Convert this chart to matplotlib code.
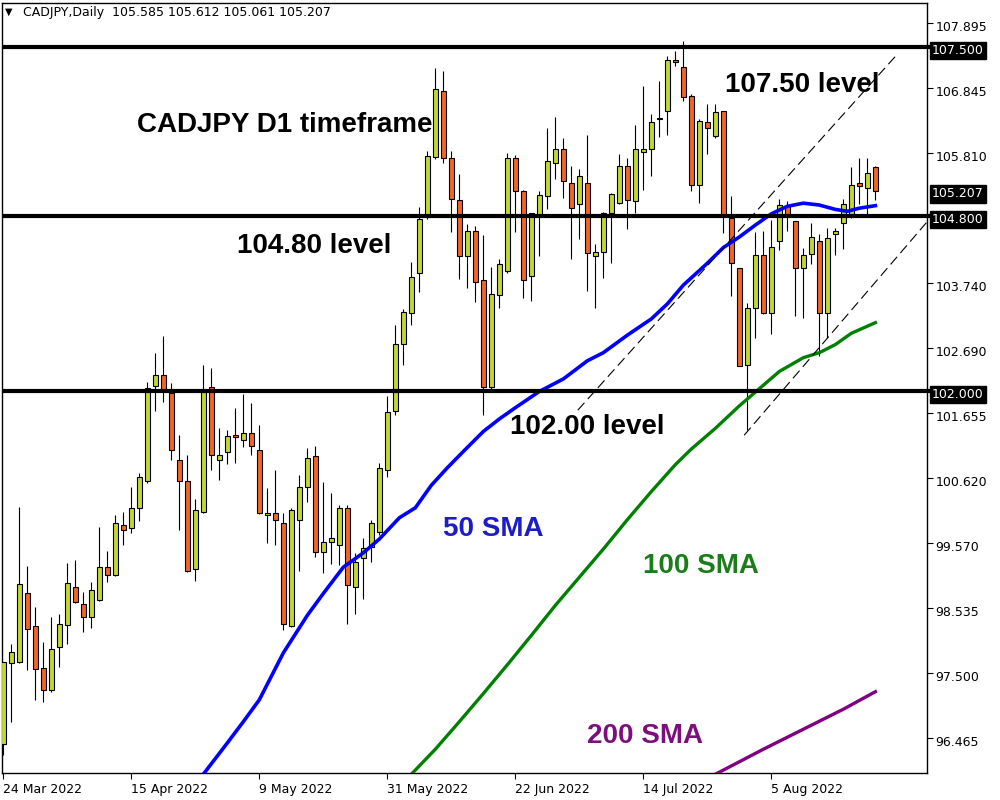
import matplotlib
matplotlib.use('Agg')
import matplotlib.pyplot as plt
from matplotlib import transforms

# daily CADJPY candles, 24 Mar 2022 -> 23 Aug 2022
opens = [96.36, 97.66, 97.68, 98.77, 98.25, 97.58, 97.22, 97.91, 98.26, 98.88,
         98.60, 98.40, 98.66, 99.19, 99.06, 99.87, 99.81, 100.13, 100.57, 102.08,
         102.26, 101.98, 100.91, 100.57, 99.16, 100.07, 102.07, 100.90, 101.03, 101.31,
         101.22, 101.34, 101.07, 100.02, 100.05, 99.90, 98.25, 99.94, 100.48, 100.97,
         99.44, 99.60, 99.54, 100.14, 98.88, 99.33, 99.51, 99.76, 100.75, 101.69,
         102.76, 103.25, 103.89, 104.79, 105.75, 106.81, 105.74, 105.06, 104.16, 104.56,
         103.78, 102.07, 103.54, 103.92, 105.74, 105.20, 103.84, 104.80, 105.12, 105.65,
         105.87, 105.34, 104.99, 105.34, 104.16, 104.23, 104.85, 105.01, 105.61, 105.04,
         105.82, 105.88, 106.35, 106.49, 107.30, 107.18, 106.73, 105.30, 106.30, 106.09,
         106.48, 104.78, 103.97, 102.43, 103.33, 104.18, 103.25, 104.40, 104.96, 104.72,
         103.97, 104.19, 104.40, 103.26, 104.51, 104.70, 104.82, 105.33, 105.26, 105.585]
highs = [97.67, 97.96, 100.16, 99.21, 98.55, 97.99, 98.39, 98.44, 99.25, 99.30,
         98.79, 98.95, 99.83, 99.45, 100.02, 100.08, 100.48, 100.69, 102.15, 102.62,
         102.88, 102.13, 101.31, 100.99, 100.28, 102.43, 102.38, 101.41, 101.39, 101.73,
         101.96, 101.82, 101.47, 100.45, 100.74, 100.06, 100.14, 100.67, 101.09, 101.12,
         100.55, 100.37, 100.18, 100.18, 99.41, 99.65, 99.94, 100.86, 101.93, 103.07,
         103.32, 104.07, 104.95, 105.85, 107.17, 107.13, 105.85, 105.47, 104.67, 104.65,
         104.50, 103.99, 104.11, 105.81, 105.78, 105.22, 104.85, 105.20, 106.21, 106.38,
         106.05, 105.61, 105.55, 106.10, 104.35, 104.87, 105.18, 105.80, 105.73, 106.26,
         106.89, 106.43, 106.97, 107.36, 107.44, 107.61, 106.75, 106.36, 106.60, 106.60,
         106.48, 105.12, 103.97, 103.42, 104.55, 104.56, 104.74, 105.07, 105.04, 104.73,
         104.29, 104.69, 104.52, 104.62, 104.62, 105.07, 105.59, 105.74, 105.74, 105.612]
lows = [96.19, 96.71, 97.66, 97.55, 97.06, 97.03, 97.19, 97.59, 97.97, 98.62,
        98.16, 98.22, 98.65, 98.96, 99.05, 99.55, 99.73, 99.93, 100.54, 101.68,
        101.83, 100.90, 99.78, 99.12, 98.97, 100.06, 100.74, 100.58, 100.84, 100.85,
        101.11, 100.98, 100.04, 99.58, 99.55, 98.19, 98.24, 99.13, 100.24, 99.36,
        99.09, 99.24, 99.23, 98.28, 98.44, 98.68, 99.27, 99.71, 100.64, 101.63,
        102.42, 103.06, 103.59, 104.76, 105.72, 105.66, 104.55, 103.79, 103.65, 103.43,
        101.63, 102.04, 103.34, 103.89, 104.55, 103.49, 103.45, 104.16, 104.91, 105.40,
        105.10, 104.12, 104.43, 103.61, 103.33, 103.82, 104.06, 104.99, 104.60, 104.86,
        105.22, 105.45, 106.07, 106.10, 107.21, 106.64, 105.20, 105.01, 105.80, 106.05,
        104.54, 103.52, 102.40, 101.38, 102.85, 103.24, 102.92, 104.26, 104.57, 103.21,
        103.18, 104.04, 102.57, 102.86, 104.18, 104.27, 104.77, 104.99, 104.84, 105.061]
closes = [97.67, 97.83, 98.92, 98.21, 97.56, 97.22, 97.89, 98.28, 98.93, 98.63,
          98.39, 98.82, 99.19, 99.07, 99.90, 99.79, 100.13, 100.63, 102.05, 102.26,
          102.00, 101.06, 100.57, 99.13, 100.11, 102.01, 100.98, 100.99, 101.28, 101.27,
          101.34, 101.13, 100.06, 100.05, 99.95, 98.29, 100.10, 100.48, 100.94, 99.44,
          99.60, 99.65, 100.14, 98.90, 99.27, 99.49, 99.90, 100.77, 101.67, 102.76,
          103.27, 103.83, 104.75, 105.77, 106.83, 105.74, 105.07, 104.16, 104.56, 103.75,
          102.07, 103.56, 104.03, 105.74, 105.21, 103.78, 104.85, 105.14, 105.68, 105.87,
          105.36, 104.93, 105.45, 104.21, 104.23, 104.85, 105.15, 105.61, 105.06, 105.87,
          105.88, 106.30, 106.36, 107.30, 107.27, 106.70, 105.30, 106.33, 106.21, 106.47,
          104.80, 104.05, 102.41, 103.33, 104.18, 103.25, 104.31, 104.98, 104.82, 103.97,
          104.18, 104.47, 103.26, 104.45, 104.56, 104.99, 105.30, 105.28, 105.50, 105.207]

# moving averages (candle index, value)
sma50_idx = [25, 28, 30, 32, 35, 38, 40, 42.5, 45, 47, 49.5, 51.5, 53.5, 55.5, 57.5,
             60, 62, 64, 67, 70, 73, 75, 78, 81, 83, 85, 88, 90, 92, 94, 96, 98,
             100, 102, 104, 105.5, 107, 109]
sma50_val = [95.88, 96.38, 96.72, 97.07, 97.82, 98.42, 98.77, 99.19, 99.42, 99.64,
             99.98, 100.14, 100.50, 100.78, 101.04, 101.36, 101.56, 101.74, 102.00,
             102.20, 102.49, 102.62, 102.90, 103.16, 103.40, 103.70, 104.05, 104.30,
             104.47, 104.66, 104.84, 104.96, 105.01, 104.98, 104.91, 104.88, 104.93,
             104.97]
sma100_idx = [51, 54, 57, 60, 63, 66, 69, 72, 75, 78, 81, 84, 86, 89, 92, 95, 97,
              100, 102, 104, 106, 109]
sma100_val = [95.88, 96.28, 96.72, 97.17, 97.63, 98.10, 98.58, 99.03, 99.48, 99.95,
              100.40, 100.83, 101.08, 101.41, 101.77, 102.10, 102.32, 102.54, 102.62,
              102.75, 102.93, 103.10]
sma200_idx = [89, 95, 100, 105, 109]
sma200_val = [95.88, 96.28, 96.60, 96.92, 97.20]

# hand-drawn channel lines (candle index, price)
upper_trend = ([71.8, 111.8], [101.70, 107.40])
lower_trend = ([92.6, 115.45], [101.30, 104.71])

levels = [107.5, 104.8, 102.0]
last_price = 105.207
ytick_vals = [107.895, 106.845, 105.810, 103.740, 102.690, 101.655,
              100.620, 99.570, 98.535, 97.500, 96.465]
date_idx = [0, 16, 32, 48, 64, 80, 96]
date_labels = ['24 Mar 2022', '15 Apr 2022', '9 May 2022', '31 May 2022',
               '22 Jun 2022', '14 Jul 2022', '5 Aug 2022']

BULL = '#c2d82e'
BEAR = '#f46424'

fig = plt.figure(figsize=(10, 8), dpi=100)
ax = fig.add_axes([0.002, 0.03375, 0.925, 0.9625])
ax.set_xlim(-0.16, 115.45)
ax.set_ylim(95.90, 108.21)

# candles
x = list(range(len(opens)))
ax.vlines(x, lows, highs, color='black', lw=0.8, zorder=2)
bottoms = [min(o, c) for o, c in zip(opens, closes)]
heights = [max(abs(c - o), 0.02) for o, c in zip(opens, closes)]
colors = [BULL if c >= o else BEAR for o, c in zip(opens, closes)]
ax.bar(x, heights, bottom=bottoms, width=0.62, color=colors,
       edgecolor='black', linewidth=0.8, zorder=3)

# SMAs
ax.plot(sma50_idx, sma50_val, color='#0000ff', lw=2.6, zorder=4,
        solid_joinstyle='round')
ax.plot(sma100_idx, sma100_val, color='#008000', lw=2.4, zorder=4,
        solid_joinstyle='round')
ax.plot(sma200_idx, sma200_val, color='#800080', lw=2.4, zorder=4)

# channel
for tx, ty in (upper_trend, lower_trend):
    ax.plot(tx, ty, color='black', lw=0.8, dashes=(9, 4.5), zorder=5)

# horizontal levels + price boxes on the right scale
yblend = transforms.blended_transform_factory(ax.transAxes, ax.transData)
shift = transforms.ScaledTranslation(0, -3 / 100, fig.dpi_scale_trans)
for lv in levels:
    ax.plot([0, 1.004], [lv, lv], transform=yblend, color='black', lw=3,
            solid_capstyle='butt', clip_on=False, zorder=6)
for val in levels + [last_price]:
    ax.text(1.0055, val, f'{val:.3f}', transform=yblend + shift, color='white',
            fontsize=9, va='center', ha='left', zorder=7,
            bbox=dict(boxstyle='square,pad=0.18', fc='black', ec='black'))

# axes styling
for s in ax.spines.values():
    s.set_linewidth(1)
ax.yaxis.tick_right()
ax.set_yticks(ytick_vals)
ax.set_yticklabels([f'{v:.3f}' for v in ytick_vals])
ax.tick_params(axis='y', direction='out', length=4, width=0.8, pad=2, labelsize=9)
for lab in ax.get_yticklabels():
    lab.set_transform(lab.get_transform() + shift)
ax.set_xticks(date_idx)
ax.set_xticklabels(date_labels, ha='left')
ax.tick_params(axis='x', direction='out', length=4, width=0.8, pad=3, labelsize=9)

# header
ax.text(0.0032, 0.988, '\u25bc', transform=ax.transAxes, fontsize=7,
        va='center', ha='left')
ax.text(0.0225, 0.988, 'CADJPY,Daily  105.585 105.612 105.061 105.207',
        transform=ax.transAxes, fontsize=9, va='center', ha='left')

# annotations
bold = dict(fontsize=20, fontweight='bold', family='Liberation Sans',
            va='baseline', ha='left', zorder=8)
ax.text(16.71, 106.14, 'CADJPY D1 timeframe', color='black', **bold)
ax.text(90.21, 106.78, '107.50 level', color='black', **bold)
ax.text(29.21, 104.21, '104.80 level', color='black', **bold)
ax.text(63.34, 101.32, '102.00 level', color='black', **bold)
ax.text(54.96, 99.69, '50 SMA', color='#1c1cc8', **bold)
ax.text(79.96, 99.09, '100 SMA', color='#1a7d1a', **bold)
ax.text(72.96, 96.38, '200 SMA', color='#7d0f7d', **bold)

fig.savefig('out.png', dpi=100)
